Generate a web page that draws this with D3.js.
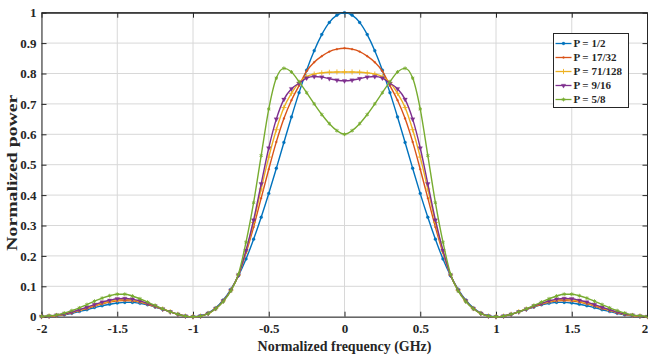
<!DOCTYPE html>
<html>
<head>
<meta charset="utf-8">
<script src="https://cdn.jsdelivr.net/npm/d3@7"></script>
<style>
  body { margin: 0; background: #fff; }
  svg text { font-family: "Liberation Serif", "Times New Roman", serif; font-weight: bold; fill: #262626; }
</style>
</head>
<body>
<script>
// Chart size and plot box
var W = 648;
var H = 355;
var Left = 41.5, Right = 647.5, Top = 12.7, Bottom = 316.7;

// Data (frequency in GHz, normalized power)
var freq = [-2, -1.95, -1.9, -1.85, -1.8, -1.75, -1.7, -1.65, -1.6, -1.55,
  -1.5, -1.45, -1.4, -1.35, -1.3, -1.25, -1.2, -1.15, -1.1, -1.05,
  -1, -0.95, -0.9, -0.85, -0.8, -0.75, -0.7, -0.65, -0.6, -0.55,
  -0.5, -0.45, -0.4, -0.35, -0.3, -0.25, -0.2, -0.15, -0.1, -0.05,
  0, 0.05, 0.1, 0.15, 0.2, 0.25, 0.3, 0.35, 0.4, 0.45,
  0.5, 0.55, 0.6, 0.65, 0.7, 0.75, 0.8, 0.85, 0.9, 0.95,
  1, 1.05, 1.1, 1.15, 1.2, 1.25, 1.3, 1.35, 1.4, 1.45,
  1.5, 1.55, 1.6, 1.65, 1.7, 1.75, 1.8, 1.85, 1.9, 1.95, 2];

var p1_2 = [0.000, 0.001, 0.003, 0.006, 0.011, 0.017, 0.023, 0.030, 0.036, 0.041,
  0.045, 0.047, 0.047, 0.044, 0.039, 0.032, 0.024, 0.016, 0.008, 0.002,
  0.000, 0.003, 0.012, 0.029, 0.055, 0.090, 0.135, 0.190, 0.255, 0.327,
  0.405, 0.488, 0.573, 0.657, 0.737, 0.811, 0.875, 0.928, 0.968, 0.992,
  1.000, 0.992, 0.968, 0.928, 0.875, 0.811, 0.737, 0.657, 0.573, 0.488,
  0.405, 0.327, 0.255, 0.190, 0.135, 0.090, 0.055, 0.029, 0.012, 0.003,
  0.000, 0.002, 0.008, 0.016, 0.024, 0.032, 0.039, 0.044, 0.047, 0.047,
  0.045, 0.041, 0.036, 0.030, 0.023, 0.017, 0.011, 0.006, 0.003, 0.001, 0.000];

var p17_32 = [0.000, 0.001, 0.004, 0.008, 0.013, 0.020, 0.027, 0.035, 0.042, 0.048,
  0.052, 0.053, 0.052, 0.048, 0.041, 0.033, 0.025, 0.016, 0.008, 0.002,
  0.000, 0.002, 0.011, 0.027, 0.052, 0.087, 0.137, 0.210, 0.295, 0.390,
  0.485, 0.575, 0.652, 0.712, 0.760, 0.808, 0.837, 0.857, 0.872, 0.880,
  0.883, 0.880, 0.872, 0.857, 0.837, 0.808, 0.760, 0.712, 0.652, 0.575,
  0.485, 0.390, 0.295, 0.210, 0.137, 0.087, 0.052, 0.027, 0.011, 0.002,
  0.000, 0.002, 0.008, 0.016, 0.025, 0.033, 0.041, 0.048, 0.052, 0.053,
  0.052, 0.048, 0.042, 0.035, 0.027, 0.020, 0.013, 0.008, 0.004, 0.001, 0.000];

var p71_128 = [0.000, 0.002, 0.004, 0.008, 0.014, 0.021, 0.029, 0.038, 0.045, 0.051,
  0.055, 0.057, 0.055, 0.050, 0.043, 0.034, 0.025, 0.016, 0.008, 0.002,
  0.000, 0.002, 0.011, 0.027, 0.052, 0.087, 0.137, 0.215, 0.310, 0.420,
  0.525, 0.615, 0.688, 0.735, 0.770, 0.790, 0.798, 0.802, 0.804, 0.805,
  0.805, 0.805, 0.804, 0.802, 0.798, 0.790, 0.770, 0.735, 0.688, 0.615,
  0.525, 0.420, 0.310, 0.215, 0.137, 0.087, 0.052, 0.027, 0.011, 0.002,
  0.000, 0.002, 0.008, 0.016, 0.025, 0.034, 0.043, 0.050, 0.055, 0.057,
  0.055, 0.051, 0.045, 0.038, 0.029, 0.021, 0.014, 0.008, 0.004, 0.002, 0.000];

var p9_16 = [0.001, 0.002, 0.005, 0.009, 0.015, 0.023, 0.031, 0.040, 0.048, 0.054,
  0.059, 0.060, 0.058, 0.052, 0.044, 0.035, 0.025, 0.016, 0.008, 0.002,
  0.000, 0.002, 0.011, 0.027, 0.052, 0.087, 0.137, 0.218, 0.318, 0.437,
  0.555, 0.650, 0.715, 0.750, 0.768, 0.785, 0.790, 0.788, 0.783, 0.778,
  0.776, 0.778, 0.783, 0.788, 0.790, 0.785, 0.768, 0.750, 0.715, 0.650,
  0.555, 0.437, 0.318, 0.218, 0.137, 0.087, 0.052, 0.027, 0.011, 0.002,
  0.000, 0.002, 0.008, 0.016, 0.025, 0.035, 0.044, 0.052, 0.058, 0.060,
  0.059, 0.054, 0.048, 0.040, 0.031, 0.023, 0.015, 0.009, 0.005, 0.002, 0.001];

var p5_8 = [0.001, 0.003, 0.006, 0.012, 0.020, 0.029, 0.040, 0.051, 0.061, 0.069,
  0.074, 0.074, 0.068, 0.059, 0.048, 0.037, 0.026, 0.016, 0.008, 0.002,
  0.000, 0.002, 0.010, 0.026, 0.050, 0.085, 0.140, 0.245, 0.375, 0.530,
  0.683, 0.785, 0.817, 0.805, 0.773, 0.737, 0.700, 0.665, 0.635, 0.612,
  0.600, 0.612, 0.635, 0.665, 0.700, 0.737, 0.773, 0.805, 0.817, 0.785,
  0.683, 0.530, 0.375, 0.245, 0.140, 0.085, 0.050, 0.026, 0.010, 0.002,
  0.000, 0.002, 0.008, 0.016, 0.026, 0.037, 0.048, 0.059, 0.068, 0.074,
  0.074, 0.069, 0.061, 0.051, 0.040, 0.029, 0.020, 0.012, 0.006, 0.003, 0.001];

var seriesNames = ["P = 1/2", "P = 17/32", "P = 71/128", "P = 9/16", "P = 5/8"];
var xTicks = [-2, -1.5, -1, -0.5, 0, 0.5, 1, 1.5, 2];
var yTicks = [0, 0.1, 0.2, 0.3, 0.4, 0.5, 0.6, 0.7, 0.8, 0.9, 1];

// Look of each series (MATLAB default colours)
var colors = ["#0072BD", "#D95319", "#EDB120", "#7E2F8E", "#77AC30"];

function main() {
  var allSeries = [p1_2, p17_32, p71_128, p9_16, p5_8];

  var svg = makeSVG("body");
  var xScale = makeScale([-2, 2], [Left, Right]);
  var yScale = makeScale([0, 1], [Bottom, Top]);

  drawGrid(svg, xScale, yScale);
  callAxis(svg, xScale, yScale);

  for (var i = 0; i < allSeries.length; i++) {
    drawSeries(svg, allSeries[i], i, xScale, yScale);
  }

  drawBox(svg);
  drawLegend(svg);
  drawTitles(svg);
}

function makeSVG(where) {
  return d3.select(where)
    .append("svg")
    .attr("width", W)
    .attr("height", H);
}

function makeScale(domain, range) {
  return d3.scaleLinear().domain(domain).range(range);
}

function drawGrid(svg, xScale, yScale) {
  var g = svg.append("g").attr("class", "grid");
  g.selectAll("line.vx")
    .data(xTicks)
    .enter()
    .append("line")
    .attr("x1", function(d) { return xScale(d); })
    .attr("x2", function(d) { return xScale(d); })
    .attr("y1", Top)
    .attr("y2", Bottom)
    .attr("stroke", "#d8d8d8")
    .attr("stroke-width", 1);
  g.selectAll("line.hy")
    .data(yTicks)
    .enter()
    .append("line")
    .attr("x1", Left)
    .attr("x2", Right)
    .attr("y1", function(d) { return yScale(d); })
    .attr("y2", function(d) { return yScale(d); })
    .attr("stroke", "#d8d8d8")
    .attr("stroke-width", 1);
}

function styleAxis(g) {
  g.selectAll("text")
    .attr("font-family", "Liberation Serif, Times New Roman, serif")
    .attr("font-weight", "bold")
    .attr("font-size", 13)
    .attr("fill", "#262626");
  g.selectAll("line").attr("stroke", "#262626");
  g.select(".domain").attr("stroke", "#262626");
}

function callAxis(svg, xScale, yScale) {
  var xAxis = d3.axisBottom(xScale)
    .tickValues(xTicks)
    .tickSizeInner(-5)
    .tickSizeOuter(0)
    .tickPadding(7)
    .tickFormat(function(d) { return String(d); });
  var gx = svg.append("g")
    .attr("class", "x axis")
    .attr("transform", "translate(0," + Bottom + ")")
    .call(xAxis);
  styleAxis(gx);
  // last label sits at the window edge, pull it in a little
  gx.selectAll(".tick text").filter(function(d) { return d == 2; }).attr("dx", -3);

  var yAxis = d3.axisLeft(yScale)
    .tickValues(yTicks)
    .tickSizeInner(-5)
    .tickSizeOuter(0)
    .tickPadding(5)
    .tickFormat(function(d) { return String(d); });
  var gy = svg.append("g")
    .attr("class", "y axis")
    .attr("transform", "translate(" + Left + ",0)")
    .call(yAxis);
  styleAxis(gy);

  // ticks on top and right side (box on)
  var xTop = d3.axisTop(xScale).tickValues(xTicks).tickSizeInner(-5).tickSizeOuter(0).tickFormat("");
  var gt = svg.append("g").attr("transform", "translate(0," + Top + ")").call(xTop);
  styleAxis(gt);
  var yRight = d3.axisRight(yScale).tickValues(yTicks).tickSizeInner(-5).tickSizeOuter(0).tickFormat("");
  var gr = svg.append("g").attr("transform", "translate(" + Right + ",0)").call(yRight);
  styleAxis(gr);
}

function markerPath(i) {
  if (i == 0) return d3.symbol().type(d3.symbolCircle).size(7)();
  if (i == 1) return d3.symbol().type(d3.symbolCircle).size(3)();
  if (i == 2) return d3.symbol().type(d3.symbolPlus).size(10)();
  if (i == 3) return d3.symbol().type(d3.symbolTriangle).size(9)();
  return d3.symbol().type(d3.symbolAsterisk).size(10)();
}

function drawMarker(sel, i) {
  sel.append("path")
    .attr("d", markerPath(i))
    .attr("transform", i == 3 ? "rotate(180)" : null)
    .attr("fill", (i == 2 || i == 4) ? "none" : colors[i])
    .attr("stroke", colors[i])
    .attr("stroke-width", (i == 2 || i == 4) ? 0.9 : 0.3);
}

function drawSeries(svg, values, i, xScale, yScale) {
  var pts = freq.map(function(f, k) { return [f, values[k]]; });
  var line = d3.line()
    .x(function(d) { return xScale(d[0]); })
    .y(function(d) { return yScale(d[1]); })
    .curve(d3.curveMonotoneX);

  svg.append("path")
    .datum(pts)
    .attr("fill", "none")
    .attr("stroke", colors[i])
    .attr("stroke-width", 1.4)
    .attr("d", line);

  svg.append("g")
    .selectAll("g")
    .data(pts)
    .enter()
    .append("g")
    .attr("transform", function(d) {
      return "translate(" + xScale(d[0]) + "," + yScale(d[1]) + ")";
    })
    .each(function() { drawMarker(d3.select(this), i); });
}

function drawBox(svg) {
  svg.append("line")
    .attr("x1", Left).attr("x2", Right)
    .attr("y1", Top).attr("y2", Top)
    .attr("stroke", "#262626").attr("stroke-width", 1);
  svg.append("line")
    .attr("x1", Right).attr("x2", Right)
    .attr("y1", Top).attr("y2", Bottom)
    .attr("stroke", "#262626").attr("stroke-width", 1);
}

function drawLegend(svg) {
  var lx = 553.5, ly = 33.5, lw = 75, lh = 74;
  var g = svg.append("g").attr("class", "legend");
  g.append("rect")
    .attr("x", lx).attr("y", ly)
    .attr("width", lw).attr("height", lh)
    .attr("fill", "#fff")
    .attr("stroke", "#262626")
    .attr("stroke-width", 1);

  var rows = g.selectAll("g.row")
    .data(seriesNames)
    .enter()
    .append("g")
    .attr("class", "row")
    .attr("transform", function(d, i) { return "translate(" + lx + "," + (ly + 10 + i * 14) + ")"; });

  rows.append("line")
    .attr("x1", 2).attr("x2", 18)
    .attr("y1", 0).attr("y2", 0)
    .attr("stroke", function(d, i) { return colors[i]; })
    .attr("stroke-width", 1.3);

  rows.each(function(d, i) {
    var m = d3.select(this).append("g").attr("transform", "translate(10,0)");
    drawMarker(m, i);
  });

  rows.append("text")
    .attr("x", 20)
    .attr("y", 0)
    .attr("dy", "0.35em")
    .attr("font-size", 11)
    .text(function(d) { return d; });
}

function drawTitles(svg) {
  svg.append("text")
    .attr("x", (Left + Right) / 2)
    .attr("y", 351)
    .attr("text-anchor", "middle")
    .attr("font-size", 14)
    .text("Normalized frequency (GHz)");

  svg.append("text")
    .attr("transform", "translate(17," + ((Top + Bottom) / 2 + 8) + ") rotate(-90)")
    .attr("text-anchor", "middle")
    .attr("font-size", 15)
    .attr("textLength", 156)
    .attr("lengthAdjust", "spacingAndGlyphs")
    .text("Normalized power");
}

main();
</script>
</body>
</html>
